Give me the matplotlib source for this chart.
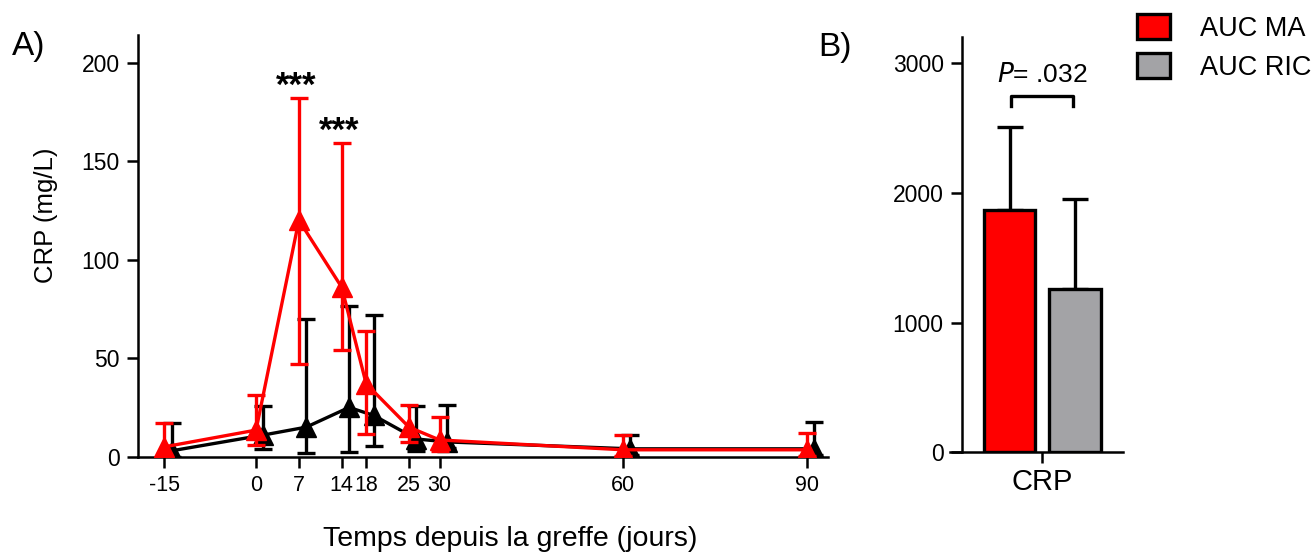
import matplotlib as mpl
import matplotlib.pyplot as plt
from matplotlib.patches import Patch

mpl.rcParams.update(
    {
        "font.family": "sans-serif",
        "font.sans-serif": ["Liberation Sans", "DejaVu Sans"],
        "font.size": 16,
        "axes.linewidth": 1.8,
        "axes.unicode_minus": False,
    }
)

# panel A: CRP over time (mg/L), mean with lower / upper error bounds
days = [-15, 0, 7, 14, 18, 25, 30, 60, 90]
ma_mean = [5, 13.5, 120, 86, 37, 15, 8.5, 3.5, 3.5]
ma_low = [0, 6, 47, 54, 11.5, 7.3, 3, 0.5, 0.5]
ma_high = [17, 31.5, 182, 159, 64, 26, 20, 11, 12]
ric_mean = [3, 11, 15, 25, 21, 9, 7.5, 4, 4]
ric_low = [0, 3.7, 1.7, 2.5, 5.4, 3, 4.3, 1, 1]
ric_high = [17, 25.8, 70, 76.5, 72, 25.8, 26, 11, 17.5]
star_days = [7, 14]
star_y = [188, 165]

# panel B: AUC
auc_labels = ["AUC MA", "AUC RIC"]
auc_values = [1865, 1262]
auc_err = [645, 690]
p_text = "= .032"

RED = "#ff0000"
GREY = "#a3a3a6"
W, H = 1315, 552


def err(mean, low, high):
    return [[m - l for m, l in zip(mean, low)], [h - m for m, h in zip(mean, high)]]


fig = plt.figure(figsize=(W / 100, H / 100), dpi=100)

# ---- A
ax = fig.add_axes([138 / W, 1 - 456.7 / H, (828 - 138) / W, (456.7 - 35) / H])
ric_x = [d + 1.2 for d in days]
ax.errorbar(ric_x, ric_mean, yerr=err(ric_mean, ric_low, ric_high), color="black",
            lw=2.4, elinewidth=2.4, capsize=6.5, capthick=2.4, marker="^", ms=15,
            zorder=2)
ax.errorbar(days, ma_mean, yerr=err(ma_mean, ma_low, ma_high), color=RED,
            lw=2.4, elinewidth=2.4, capsize=6.5, capthick=2.4, marker="^", ms=15,
            zorder=3)
for d, y in zip(star_days, star_y):
    ax.text(d - 0.4, y, "***", ha="center", va="center", fontsize=25, fontweight="bold")

ax.set_xlim(-19.3, 93.5)
ax.set_ylim(0, 214)
ax.set_xticks(days)
ax.set_yticks([0, 50, 100, 150, 200])
ax.tick_params(width=1.8, length=8, pad=5)
ax.tick_params(axis="y", labelsize=16.5)
ax.tick_params(axis="x", labelsize=15.5)
ax.spines[["top", "right"]].set_visible(False)
ax.set_ylabel("CRP (mg/L)", fontsize=18.5)
ax.yaxis.set_label_coords(-0.116, 0.573)
ax.set_xlabel("Temps depuis la greffe (jours)", fontsize=20.5)
ax.xaxis.set_label_coords(0.54, -0.165)
fig.text(12 / W, 1 - 46 / H, "A)", fontsize=24, va="center")

# ---- B
bx = fig.add_axes([950 / W, 1 - 452.3 / H, (1123.3 - 950) / W, (452.3 - 36.7) / H])
pos = [-0.5, 0.5]
bx.errorbar(pos, auc_values, yerr=[[0, 0], auc_err], fmt="none", ecolor="black",
            elinewidth=2.4, capsize=9.5, capthick=2.4, zorder=1)
bx.bar(pos, auc_values, width=0.78, color=[RED, GREY], edgecolor="black", lw=2.4, zorder=2)
bx.set_xlim(-1.409, 1.237)
bx.set_ylim(0, 3204)
bx.spines["left"].set_position(("data", -1.23))
bx.spines[["top", "right"]].set_visible(False)
bx.set_xticks([0])
bx.set_xticklabels(["CRP"], fontsize=21)
bx.set_yticks([0, 1000, 2000, 3000])
bx.tick_params(axis="y", width=1.8, length=8, pad=5, labelsize=16.5)
bx.tick_params(axis="x", width=1.8, length=8, pad=3)
bx.plot([-0.47, -0.47, 0.47, 0.47], [2670, 2750, 2750, 2670], color="black", lw=2.4,
        clip_on=False)
bx.text(0, 2820, r"$\it{P}$" + p_text, ha="center", va="bottom", fontsize=19)
fig.text(818 / W, 1 - 48 / H, "B)", fontsize=24, va="center")

handles = [Patch(facecolor=c, edgecolor="black", lw=2.4) for c in [RED, GREY]]
fig.legend(handles, auc_labels, loc="upper left", bbox_to_anchor=(1137 / W, 1 - 14 / H),
           frameon=False, fontsize=19.5, handlelength=1.22, handleheight=1.05,
           handletextpad=1.1, labelspacing=0.42, borderpad=0, borderaxespad=0)

fig.savefig("out.png", dpi=100)
